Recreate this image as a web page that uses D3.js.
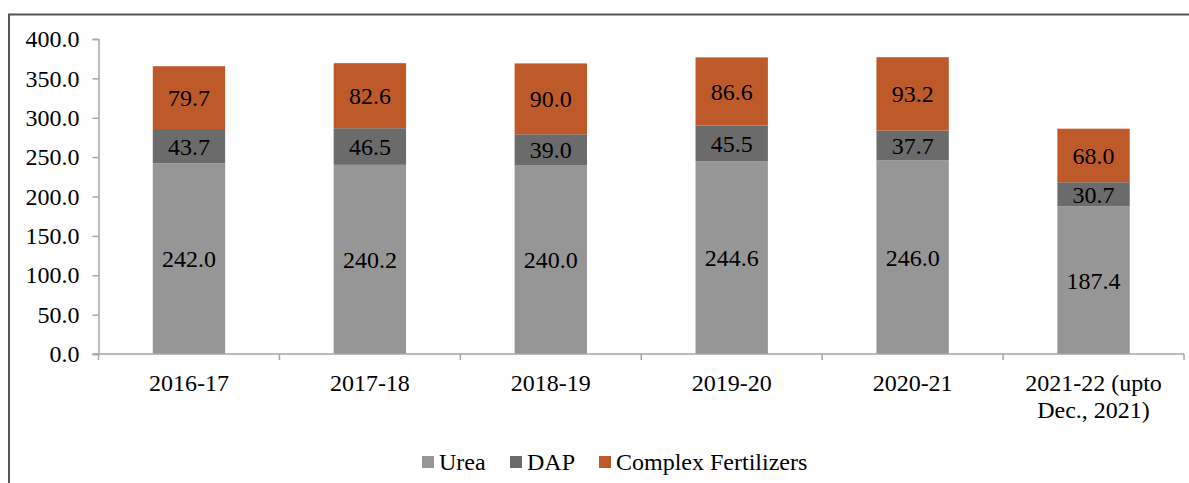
<!DOCTYPE html>
<html>
<head>
<meta charset="utf-8">
<script src="https://cdn.jsdelivr.net/npm/d3@7"></script>
<style>
  body { margin: 0; background: #fff; }
</style>
</head>
<body>
<svg width="1189" height="483"></svg>
<script>
  // data
  var years = ["2016-17", "2017-18", "2018-19", "2019-20", "2020-21", "2021-22 (upto|Dec., 2021)"];
  var urea = [242.0, 240.2, 240.0, 244.6, 246.0, 187.4];
  var dap = [43.7, 46.5, 39.0, 45.5, 37.7, 30.7];
  var complex = [79.7, 82.6, 90.0, 86.6, 93.2, 68.0];
  var seriesNames = ["Urea", "DAP", "Complex Fertilizers"];
  var colors = ["#969696", "#6b6b6b", "#be5a29"];
  var yTicks = [0, 50, 100, 150, 200, 250, 300, 350, 400];

  var FONT = "Liberation Serif";
  var FS = 24;

  var svg = d3.select("svg"),
      width = +svg.attr("width"),
      height = +svg.attr("height");

  // frame (only the top and left edges show in the picture)
  svg.append("path")
      .attr("d", "M9,483 V14.5 H1189")
      .attr("fill", "none")
      .attr("stroke", "#555")
      .attr("stroke-width", 2);

  var margin = {left: 98.5, right: 1184, top: 39, bottom: 354};

  var x = d3.scaleBand()
      .domain(years)
      .range([margin.left, margin.right])
      .paddingInner(0.6)
      .paddingOuter(0.3);

  var y = d3.scaleLinear()
      .domain([0, 400])
      .range([margin.bottom, margin.top]);

  var color = d3.scaleOrdinal().domain(seriesNames).range(colors);

  var rows = years.map(function(d, i) {
    return {year: d, "Urea": urea[i], "DAP": dap[i], "Complex Fertilizers": complex[i]};
  });
  var stacked = d3.stack().keys(seriesNames)(rows);

  // y axis
  var yAxis = svg.append("g")
      .attr("transform", "translate(" + margin.left + ",0)")
      .call(d3.axisLeft(y).tickValues(yTicks).tickFormat(d3.format(".1f")).tickSize(6).tickPadding(13))
      .attr("font-family", FONT)
      .attr("font-size", FS);
  yAxis.select(".domain").attr("stroke", "#a6a6a6").attr("stroke-width", 1.5);
  yAxis.selectAll(".tick line").attr("stroke", "#a6a6a6").attr("stroke-width", 1.5);
  yAxis.selectAll(".tick text").attr("fill", "#000");

  // bars
  var layer = svg.append("g").selectAll("g")
      .data(stacked)
      .enter().append("g")
      .attr("fill", function(d) { return color(d.key); });

  layer.selectAll("rect")
      .data(function(d) { return d; })
      .enter().append("rect")
      .attr("x", function(d) { return x(d.data.year); })
      .attr("width", x.bandwidth())
      .attr("y", function(d) { return y(d[1]); })
      .attr("height", function(d) { return y(d[0]) - y(d[1]); });

  // value labels
  layer.selectAll("text")
      .data(function(d) { return d; })
      .enter().append("text")
      .attr("x", function(d) { return x(d.data.year) + x.bandwidth() / 2; })
      .attr("y", function(d) { return (y(d[0]) + y(d[1])) / 2; })
      .attr("text-anchor", "middle")
      .attr("dy", "0.35em")
      .attr("fill", "#000")
      .attr("font-family", FONT)
      .attr("font-size", FS)
      .text(function(d) { return d3.format(".1f")(d[1] - d[0]); });

  // x axis
  var xg = svg.append("g");
  xg.append("line")
      .attr("x1", margin.left - 6).attr("x2", margin.right)
      .attr("y1", y(0)).attr("y2", y(0))
      .attr("stroke", "#a6a6a6").attr("stroke-width", 1.5);
  xg.selectAll("line.tk")
      .data(d3.range(years.length + 1))
      .enter().append("line")
      .attr("class", "tk")
      .attr("x1", function(i) { return margin.left + i * x.step(); })
      .attr("x2", function(i) { return margin.left + i * x.step(); })
      .attr("y1", y(0)).attr("y2", y(0) + 6)
      .attr("stroke", "#a6a6a6").attr("stroke-width", 1.5);

  var lab = xg.selectAll("text")
      .data(years)
      .enter().append("text")
      .attr("text-anchor", "middle")
      .attr("fill", "#000")
      .attr("font-family", FONT)
      .attr("font-size", FS)
      .attr("transform", function(d) {
        return "translate(" + (x(d) + x.bandwidth() / 2) + "," + (y(0) + 37) + ")";
      });
  lab.selectAll("tspan")
      .data(function(d) { return d.split("|"); })
      .enter().append("tspan")
      .attr("x", 0)
      .attr("dy", function(d, i) { return i ? 27 : 0; })
      .text(function(d) { return d; });

  // legend
  var legendX = [422, 510, 599];
  var legend = svg.append("g").selectAll("g")
      .data(seriesNames)
      .enter().append("g")
      .attr("transform", function(d, i) { return "translate(" + legendX[i] + ",462)"; });
  legend.append("rect")
      .attr("x", 0).attr("y", -6)
      .attr("width", 12).attr("height", 12)
      .attr("fill", function(d) { return color(d); });
  legend.append("text")
      .attr("x", 17)
      .attr("dy", "0.35em")
      .attr("fill", "#000")
      .attr("font-family", FONT)
      .attr("font-size", FS)
      .text(function(d) { return d; });
</script>
</body>
</html>
